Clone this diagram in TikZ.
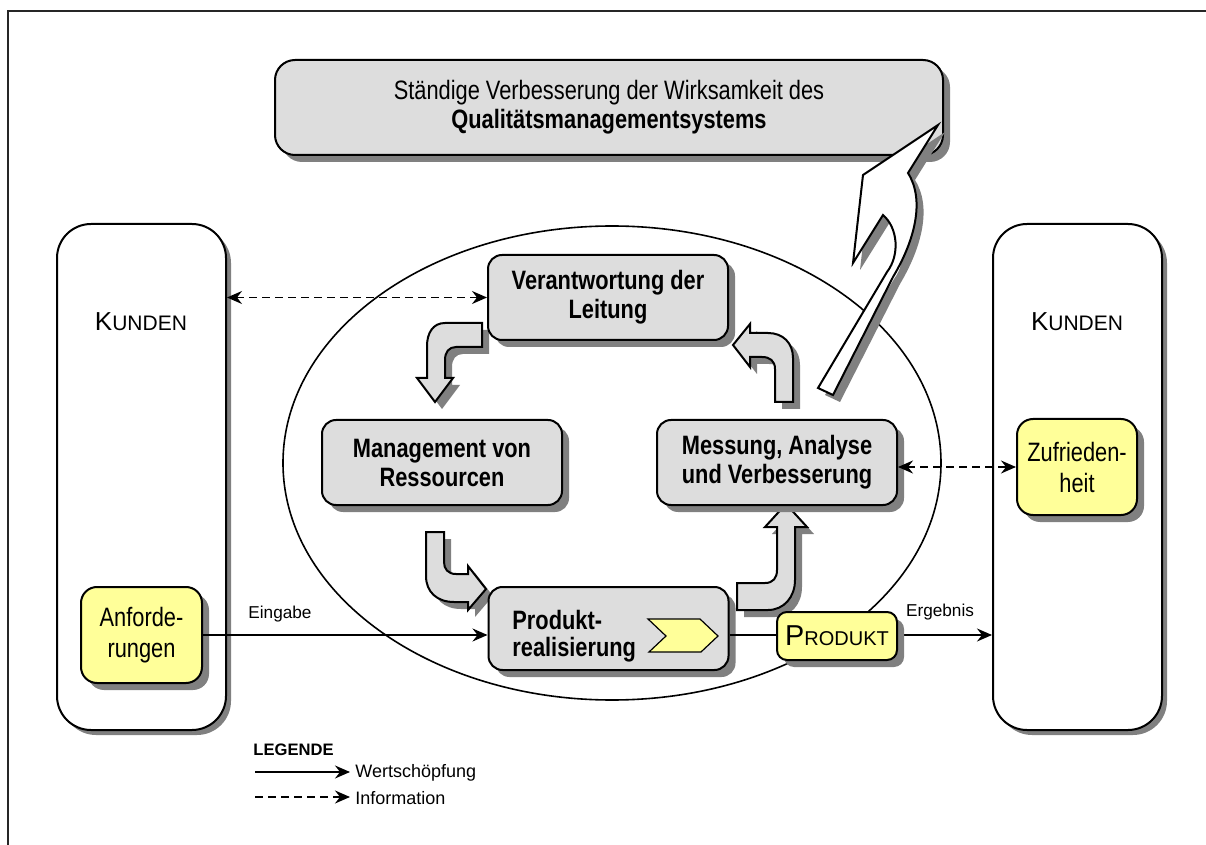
\documentclass[tikz,border=0pt]{standalone}
\usepackage{fontspec}
\setmainfont{Liberation Sans}
\newfontfamily\narrowfont{Liberation Sans}[FakeStretch=0.82]
\usetikzlibrary{shapes.geometric,shadows,arrows.meta}

\definecolor{boxgray}{HTML}{DDDDDD}
\definecolor{boxyellow}{HTML}{FFFF99}
\definecolor{shadegray}{HTML}{808080}

\tikzset{
  shade box/.style={drop shadow={shadow xshift=3.5pt,shadow yshift=-3.5pt,fill=shadegray,opacity=1}},
  procbox/.style={draw, line width=1pt, fill=boxgray, rounded corners=7pt,
    minimum width=120pt, minimum height=42.5pt, inner sep=0pt, align=center, shade box,
    font=\narrowfont\bfseries\fontsize{13.3}{14.5}\selectfont},
  notebox/.style={draw, line width=1pt, fill=boxyellow, rounded corners=8pt,
    minimum width=60.5pt, minimum height=48pt, inner sep=0pt, align=center, shade box,
    font=\narrowfont\fontsize{13.3}{15.5}\selectfont},
  custcol/.style={draw, line width=1pt, fill=white, rounded corners=17pt,
    minimum width=84.5pt, minimum height=253pt, inner sep=0pt,
    drop shadow={shadow xshift=2.5pt,shadow yshift=-2.5pt,fill=shadegray,opacity=1}},
  blockarrow/.style={draw, line width=1pt, fill=boxgray, line join=miter, shade box},
  tip/.style={Stealth[length=7.5pt,width=6.5pt,inset=2.5pt]},
  flow/.style={line width=0.75pt, -{Stealth[length=7.5pt,width=6.5pt,inset=2.5pt]}},
  infoflow/.style={line width=0.75pt, dash pattern=on 4pt off 2.5pt,
    {Stealth[length=7.5pt,width=6.5pt,inset=2.5pt]}-{Stealth[length=7.5pt,width=6.5pt,inset=2.5pt]}},
  infoone/.style={line width=0.75pt, dash pattern=on 4pt off 2.5pt,
    -{Stealth[length=7.5pt,width=6.5pt,inset=2.5pt]}},
  smalllabel/.style={font=\fontsize{8.6}{10}\selectfont, inner sep=0pt},
  legendtext/.style={font=\fontsize{9}{10}\selectfont, inner sep=0pt, anchor=west},
}

\newcommand\kundenlabel{{\fontsize{13}{15}\selectfont K\fontsize{10.5}{15}\selectfont UNDEN}}

\begin{document}
\begin{tikzpicture}[x=0.5pt,y=-0.5pt]
\useasboundingbox (0,0) rectangle (1206,845);

% outer frame
\draw[line width=1.2pt, black!85] (8,880) -- (8,11) -- (1240,11);

% process cycle
\node[ellipse, draw, line width=0.8pt, fill=white, minimum width=329pt, minimum height=237pt] (cycle) at (612,463) {};

% customer columns
\node[custcol] (kundenL) at (141.5,477) {};
\node[custcol] (kundenR) at (1077.5,477) {};
\node[inner sep=0pt] (kundenLlabel) at (141,322) {\kundenlabel};
\node[inner sep=0pt] (kundenRlabel) at (1077,322) {\kundenlabel};

% continual improvement banner
\node[draw, line width=1pt, fill=boxgray, rounded corners=10pt, minimum width=334pt, minimum height=47.5pt,
  inner sep=0pt, align=center, shade box, font=\narrowfont\fontsize{13.3}{14.5}\selectfont]
  (banner) at (609,107.5) {Ständige Verbesserung der Wirksamkeit des\\\textbf{Qualitätsmanagementsystems}};

% curved block arrows of the cycle
\draw[blockarrow] (482,323) -- (445,323) .. controls (433,323) and (427,333) .. (427,346)
  -- (427,378) -- (417,378) -- (435,402) -- (453,378) -- (445,378) -- (445,360)
  .. controls (445,352) and (449,347) .. (456,347) -- (482,347) -- cycle;
\draw[blockarrow] (775,402) -- (775,369) .. controls (775,361) and (770,357) .. (762,357)
  -- (750,357) -- (750,367) -- (733,345) -- (750,324) -- (750,333) -- (768,333)
  .. controls (783,333) and (793,343) .. (793,358) -- (793,402) -- cycle;
\draw[blockarrow] (426,532) -- (444,532) -- (444,562) .. controls (444,569) and (448,574) .. (456,574)
  -- (468,574) -- (468,566) -- (486,589) -- (468,610) -- (468,602) -- (454,602)
  .. controls (437,602) and (426,592) .. (426,576) -- cycle;
\draw[blockarrow] (737,583) -- (765,583) .. controls (773,583) and (777,578) .. (777,570)
  -- (777,527) -- (765,527) -- (786,504) -- (807,527) -- (795,527) -- (795,580)
  .. controls (795,597) and (784,610) .. (768,610) -- (737,610) -- cycle;

% improvement arrow towards the banner
\draw[line width=1pt, fill=white, line join=miter, shade box]
  (938,125) -- (863,175) -- (853,263) -- (883,215)
  .. controls (898,228) and (900,255) .. (887,272) -- (818,388) -- (833,395) -- (893,277)
  .. controls (915,240) and (925,200) .. (908,173) -- cycle;

% process boxes
\node[procbox] (verant) at (608,297.5) {Verantwortung der\\Leitung};
\node[procbox] (mgmt) at (442,462.5) {Management von\\Ressourcen};
\node[procbox] (mess) at (777,462.5) {Messung, Analyse\\und Verbesserung};
\node[procbox, minimum height=41.5pt] (prod) at (608.5,628.5) {};
\node[anchor=west, inner sep=0pt, align=left, font=\narrowfont\bfseries\fontsize{13.3}{13.5}\selectfont]
  (prodlabel) at (512,636) {Produkt-\\realisierung};
\draw[line width=0.6pt, fill=boxyellow] (648,619) -- (700,619) -- (718,636) -- (701,652) -- (649,652) -- (666,636) -- cycle;

% requirements and satisfaction
\node[notebox] (anf) at (141.5,635) {Anforde-\\rungen};
\node[notebox, minimum width=60pt] (zuf) at (1077,467) {Zufrieden-\\heit};

% information flows
\draw[infoflow] (kundenL.east |- verant.west) -- (verant.west);
\draw[infoflow] (mess.east |- zuf.west) -- (zuf.west);

% value-adding flows
\draw[flow] (anf.east) -- (prod.west |- anf.east);
\node[smalllabel] (eingabe) at (280,614) {Eingabe};
\draw[flow] (prod.east |- anf.east) -- (kundenR.west |- anf.east);
\node[smalllabel] (ergebnis) at (940,612) {Ergebnis};
\node[draw, line width=1pt, fill=boxyellow, rounded corners=5pt, minimum width=60pt, minimum height=24pt,
  inner sep=0pt, shade box] (produkt) at (837,636)
  {{\fontsize{14.4}{16}\selectfont P\fontsize{10}{16}\selectfont RODUKT}};

% legend
\node[anchor=west, inner sep=0pt, font=\bfseries\fontsize{8.3}{10}\selectfont] (legende) at (253,750) {LEGENDE};
\coordinate (wsA) at (255,772);
\coordinate (wsB) at (350,772);
\coordinate (inA) at (255,797);
\coordinate (inB) at (350,797);
\draw[flow] (wsA) -- (wsB);
\draw[infoone] (inA) -- (inB);
\node[legendtext] (wstext) at (355,773) {Wertschöpfung};
\node[legendtext] (intext) at (355,798) {Information};
\end{tikzpicture}
\end{document}
